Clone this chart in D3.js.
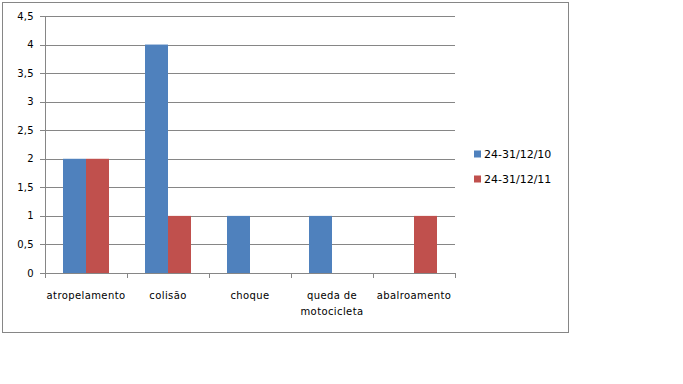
<!DOCTYPE html>
<html>
<head>
<meta charset="utf-8">
<script src="https://cdn.jsdelivr.net/npm/d3@7"></script>
<style>
  body { margin: 0; background: #fff; }
  text { font-family: "DejaVu Sans", sans-serif; fill: #000; }
</style>
</head>
<body>
<div id="chart"></div>
<script>
var categories = ["atropelamento", "colisão", "choque", "queda de|motocicleta", "abalroamento"];
var seriesNames = ["24-31/12/10", "24-31/12/11"];
var series2010 = [2, 4, 1, 1, 0];
var series2011 = [2, 1, 0, 0, 1];
var yTicks = [0, 0.5, 1, 1.5, 2, 2.5, 3, 3.5, 4, 4.5];
var colors = ["#4F81BD", "#C0504D"];

var width = 683,
    height = 384;

var svg = d3.select("#chart").append("svg")
    .attr("width", width)
    .attr("height", height)

// outer frame
svg.append("rect")
    .attr("x", 2.5).attr("y", 2.5)
    .attr("width", 566).attr("height", 330)
    .attr("fill", "none")
    .attr("stroke", "#868686")

var x = d3.scaleBand()
    .domain(d3.range(categories.length))
    .range([45, 455]);

var y = d3.scaleLinear()
    .domain([0, 4.5])
    .range([273, 16]);

var inner = d3.scaleBand()
    .domain([0, 1])
    .range([0, 46]);

// gridlines + y labels
svg.selectAll(".grid")
    .data(yTicks)
    .enter().append("line")
    .attr("x1", 40)
    .attr("x2", 455)
    .attr("y1", function (d) { return Math.round(y(d)) + 0.5 })
    .attr("y2", function (d) { return Math.round(y(d)) + 0.5 })
    .attr("stroke", "#868686")

svg.selectAll(".ylab")
    .data(yTicks)
    .enter().append("text")
    .attr("x", 34)
    .attr("y", function (d) { return y(d) })
    .attr("dy", "0.35em")
    .attr("text-anchor", "end")
    .style("font-size", "10px")
    .style("letter-spacing", "0.3px")
    .text(function (d) { return String(d).replace(".", ",") })

// y axis
svg.append("line")
    .attr("x1", 45.5).attr("x2", 45.5)
    .attr("y1", 16).attr("y2", 273)
    .attr("stroke", "#868686")

// category ticks
svg.selectAll(".xtick")
    .data(d3.range(categories.length + 1))
    .enter().append("line")
    .attr("x1", function (i) { return Math.round(45 + i * x.bandwidth()) + 0.5 })
    .attr("x2", function (i) { return Math.round(45 + i * x.bandwidth()) + 0.5 })
    .attr("y1", 273).attr("y2", 278)
    .attr("stroke", "#868686")

var data = categories.map(function (c, i) {
    return { i: i, values: [series2010[i], series2011[i]] }
});

var groups = svg.selectAll(".grp")
    .data(data)
    .enter().append("g")
    .attr("transform", function (d) {
        return "translate(" + (x(d.i) + x.bandwidth() / 2 - 23) + ",0)"
    });

groups.selectAll("rect")
    .data(function (d) { return d.values })
    .enter().append("rect")
    .attr("x", function (d, j) { return inner(j) })
    .attr("width", inner.bandwidth())
    .attr("y", function (d) { return y(d) })
    .attr("height", function (d) { return y(0) - y(d) })
    .attr("fill", function (d, j) { return colors[j] })

// x axis line
svg.append("line")
    .attr("x1", 45).attr("x2", 455)
    .attr("y1", 273.5).attr("y2", 273.5)
    .attr("stroke", "#868686")

// category labels
svg.selectAll(".xlab")
    .data(categories)
    .enter().append("text")
    .attr("text-anchor", "middle")
    .style("font-size", "10px")
    .style("letter-spacing", "0.4px")
    .each(function (c, i) {
        var lines = c.split("|");
        d3.select(this).selectAll("tspan")
            .data(lines)
            .enter().append("tspan")
            .attr("x", x(i) + x.bandwidth() / 2)
            .attr("y", function (l, k) { return 299 + k * 16 })
            .text(function (l) { return l })
    })

// legend
var legend = svg.selectAll(".leg")
    .data(seriesNames)
    .enter().append("g")
    .attr("transform", function (d, i) { return "translate(474," + (154 + i * 25) + ")" });

legend.append("rect")
    .attr("x", 0).attr("y", -3.5)
    .attr("width", 7).attr("height", 7)
    .attr("fill", function (d, i) { return colors[i] })

legend.append("text")
    .attr("x", 10)
    .attr("y", 0)
    .attr("dy", "0.35em")
    .style("font-size", "11px")
    .text(function (d) { return d })
</script>
</body>
</html>
